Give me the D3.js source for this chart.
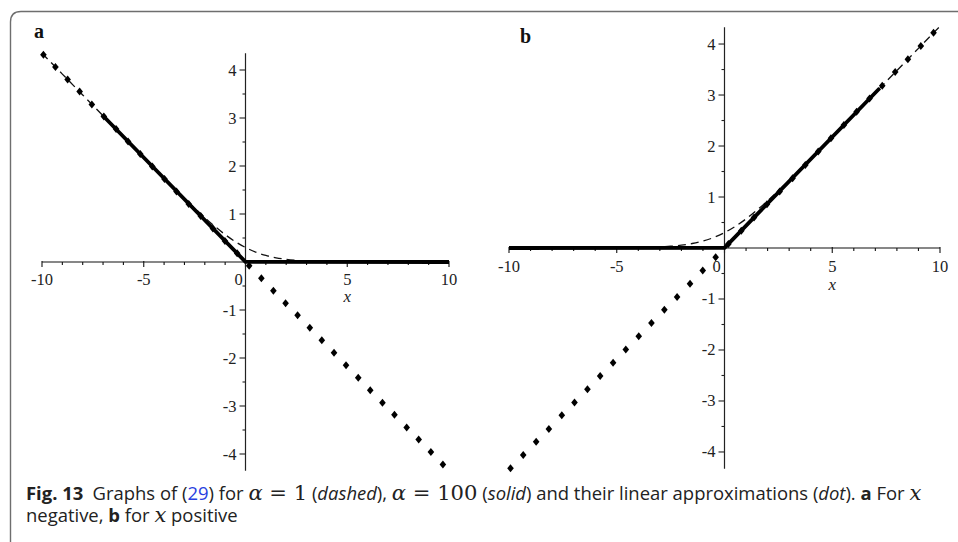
<!DOCTYPE html>
<html>
<head>
<meta charset="utf-8">
<script src="https://cdn.jsdelivr.net/npm/d3@7/dist/d3.min.js"></script>
<style>
  html, body { margin: 0; padding: 0; background: #fff; }
  svg { display: block; }
</style>
</head>
<body>
<svg id="fig" width="958" height="542"></svg>
<script>
// ---- data ---------------------------------------------------------------
const xTickLabels = [-10, -5, 0, 5, 10];
const yTickLabels = [-4, -3, -2, -1, 1, 2, 3, 4];

// alpha = 1 curve, panel a (x negative branch)
const dashXA = [-10, -9, -8, -7, -6, -5, -4, -3, -2.5, -2, -1.5, -1, -0.5, 0, 0.5, 1, 1.5, 2, 2.5, 3, 4, 5, 6, 8, 10];
const dashYA = [4.35, 3.915, 3.48, 3.046, 2.611, 2.178, 1.748, 1.326, 1.122, 0.925, 0.74, 0.571, 0.424, 0.302, 0.206, 0.136, 0.088, 0.055, 0.034, 0.021, 0.008, 0.003, 0.001, 0, 0];
// alpha = 1 curve, panel b (x positive branch)
const dashXB = [-10, -8, -6, -5, -4, -3, -2.5, -2, -1.5, -1, -0.5, 0, 0.5, 1, 1.5, 2, 2.5, 3, 4, 5, 6, 7, 8, 9, 10];
const dashYB = [0, 0, 0.001, 0.003, 0.008, 0.021, 0.034, 0.055, 0.088, 0.136, 0.206, 0.302, 0.424, 0.571, 0.74, 0.925, 1.122, 1.326, 1.748, 2.178, 2.611, 3.046, 3.48, 3.915, 4.35];

// alpha = 100 curve
const solidXA = [-7.05, 0, 10];
const solidYA = [3.067, 0.003, 0];
const solidXB = [-10, 0, 7.2];
const solidYB = [0, 0.003, 3.132];

// linear approximations (dot markers)
const dotX = [-9.93, -9.34, -8.74, -8.15, -7.55, -6.96, -6.36, -5.77, -5.17, -4.58, -3.98, -3.39,
              -2.79, -2.2, -1.6, -1.01, -0.41, 0.18, 0.78, 1.37, 1.97, 2.56, 3.16, 3.75, 4.35,
              4.94, 5.54, 6.13, 6.73, 7.32, 7.92, 8.51, 9.11, 9.7];
const dotYA = [4.32, 4.06, 3.8, 3.55, 3.28, 3.03, 2.77, 2.51, 2.25, 1.99, 1.73, 1.47,
               1.21, 0.96, 0.7, 0.44, 0.18, -0.08, -0.34, -0.6, -0.86, -1.11, -1.37, -1.63, -1.89,
               -2.15, -2.41, -2.67, -2.93, -3.18, -3.45, -3.7, -3.96, -4.22];
const dotYB = [-4.32, -4.06, -3.8, -3.55, -3.28, -3.03, -2.77, -2.51, -2.25, -1.99, -1.73, -1.47,
               -1.21, -0.96, -0.7, -0.44, -0.18, 0.08, 0.34, 0.6, 0.86, 1.11, 1.37, 1.63, 1.89,
               2.15, 2.41, 2.67, 2.93, 3.18, 3.45, 3.7, 3.96, 4.22];

// ---- drawing ------------------------------------------------------------
const svg = d3.select("#fig");
const SERIF = "'Liberation Serif', 'Times New Roman', serif";

// frame with rounded top-left corner
svg.append("path")
  .attr("d", "M10.5,542 V22 Q10.5,11.5 21,11.5 H958")
  .attr("fill", "none").attr("stroke", "#6e6e6e").attr("stroke-width", 1.4);

function panel(cfg) {
  const g = svg.append("g");
  const x = d3.scaleLinear().domain([-10, 10]).range(cfg.xr);
  const y = d3.scaleLinear().domain([-cfg.ymax, cfg.ymax]).range(cfg.yr);

  // x axis
  const xAxis = g.append("g").attr("transform", `translate(0,${y(0)})`);
  xAxis.append("line").attr("x1", x(-10)).attr("x2", x(10))
    .attr("stroke", "#111").attr("stroke-width", 1.2);
  xAxis.selectAll("line.tk").data(d3.range(-10, 11)).join("line").attr("class", "tk")
    .attr("x1", d => x(d)).attr("x2", d => x(d))
    .attr("y1", d => d % 5 === 0 ? -1 : 0).attr("y2", d => d % 5 === 0 ? 5 : 3)
    .attr("stroke", "#111").attr("stroke-width", 1.1);
  xAxis.selectAll("text").data(xTickLabels).join("text")
    .attr("x", d => d === 0 ? x(0) - cfg.zeroShift : x(d))
    .attr("y", cfg.xLabelDy)
    .attr("text-anchor", "middle")
    .attr("font-family", SERIF).attr("font-size", 16.5).attr("fill", "#222")
    .text(d => d < 0 ? "-" + Math.abs(d) : String(d));

  // y axis
  const yAxis = g.append("g").attr("transform", `translate(${x(0)},0)`);
  yAxis.append("line").attr("y1", y(cfg.ymax)).attr("y2", y(-cfg.ymax))
    .attr("stroke", "#222").attr("stroke-width", 1.2);
  yAxis.selectAll("line.tk").data(d3.range(-8, 9).filter(v => v !== 0).map(v => v / 2)).join("line").attr("class", "tk")
    .attr("y1", d => y(d)).attr("y2", d => y(d))
    .attr("x1", d => Number.isInteger(d) ? -6 : -3).attr("x2", 0)
    .attr("stroke", "#222").attr("stroke-width", 1.1);
  yAxis.selectAll("text").data(yTickLabels).join("text")
    .attr("x", -9).attr("y", d => y(d) + 5.5)
    .attr("text-anchor", "end")
    .attr("font-family", SERIF).attr("font-size", 16.5).attr("fill", "#222")
    .text(d => d < 0 ? "-" + Math.abs(d) : String(d));

  // axis title
  g.append("text").attr("x", x(5)).attr("y", cfg.xTitleY)
    .attr("text-anchor", "middle")
    .attr("font-family", SERIF).attr("font-style", "italic").attr("font-size", 17).attr("fill", "#222")
    .text("x");

  // panel letter
  g.append("text").attr("x", cfg.letter[0]).attr("y", cfg.letter[1])
    .attr("font-family", SERIF).attr("font-weight", "bold").attr("font-size", 20).attr("fill", "#111")
    .text(cfg.name);

  const line = d3.line().x(d => x(d[0])).y(d => y(d[1]));

  // alpha = 1 (dashed)
  g.append("path").datum(d3.zip(cfg.dashX, cfg.dashY))
    .attr("d", line.curve(d3.curveMonotoneX))
    .attr("fill", "none").attr("stroke", "#111").attr("stroke-width", 1.3)
    .attr("stroke-dasharray", "8,5");

  // alpha = 100 (solid)
  g.append("path").datum(d3.zip(cfg.solidX, cfg.solidY))
    .attr("d", d3.line().x(d => x(d[0])).y(d => y(d[1])))
    .attr("fill", "none").attr("stroke", "#000").attr("stroke-width", 3.8)
    .attr("stroke-linejoin", "round");

  // linear approximation (diamond markers)
  g.selectAll("path.dot").data(d3.zip(dotX, cfg.dotY)).join("path").attr("class", "dot")
    .attr("transform", d => `translate(${x(d[0])},${y(d[1])})`)
    .attr("d", "M0,-4 L3.3,0 L0,4 L-3.3,0 Z")
    .attr("fill", "#000");
}

panel({
  name: "a", xr: [42, 449], ymax: 4.35, yr: [470.8, 53.2],
  zeroShift: 7, xLabelDy: 22.5, xTitleY: 302, letter: [34, 38],
  dashX: dashXA, dashY: dashYA, solidX: solidXA, solidY: solidYA, dotY: dotYA
});
panel({
  name: "b", xr: [509, 940], ymax: 4.33, yr: [468.8, 27.2],
  zeroShift: 8, xLabelDy: 23.5, xTitleY: 290, letter: [520, 43],
  dashX: dashXB, dashY: dashYB, solidX: solidXB, solidY: solidYB, dotY: dotYB
});

// ---- caption ------------------------------------------------------------
const SANS = "'Open Sans', 'Noto Sans', sans-serif";
const MATH = "'DejaVu Serif', 'Liberation Serif', serif";
const cap1 = [
  { t: "Fig. 13", w: "bold" }, { t: "\u2002Graphs of (" }, { t: "29", c: "#2a3fe0" }, { t: ") for " },
  { t: "\u03b1", m: true, i: true }, { t: " = 1", m: true }, { t: " (" }, { t: "dashed", i: true }, { t: "), " },
  { t: "\u03b1", m: true, i: true }, { t: " = 100", m: true }, { t: " (" }, { t: "solid", i: true },
  { t: ") and their linear approximations (" }, { t: "dot", i: true }, { t: "). " },
  { t: "a", w: "bold" }, { t: " For " }, { t: "x", m: true, i: true }
];
const cap2 = [
  { t: "negative, " }, { t: "b", w: "bold" }, { t: " for " }, { t: "x", m: true, i: true }, { t: " positive" }
];

function captionLine(parts, yBase) {
  const g = svg.append("g");
  const t = g.append("text").attr("x", 0).attr("y", 0)
    .attr("font-family", SANS).attr("font-size", 17.5).attr("fill", "#222")
    .attr("xml:space", "preserve").style("white-space", "pre");
  parts.forEach(p => {
    t.append("tspan").text(p.t)
      .attr("font-family", p.m ? MATH : SANS)
      .attr("font-size", p.m ? 20 : 17.5)
      .attr("font-weight", p.w || "normal")
      .attr("font-style", p.i ? "italic" : "normal")
      .attr("fill", p.c || "#222");
  });
  return { g, t, yBase };
}
const l1 = captionLine(cap1, 499.5);
const l2 = captionLine(cap2, 521.5);
const w1 = l1.t.node().getComputedTextLength();
const sx = (922 - 26) / w1;
[l1, l2].forEach(l => l.g.attr("transform", `translate(26,${l.yBase}) scale(${sx},1)`));
</script>
</body>
</html>
